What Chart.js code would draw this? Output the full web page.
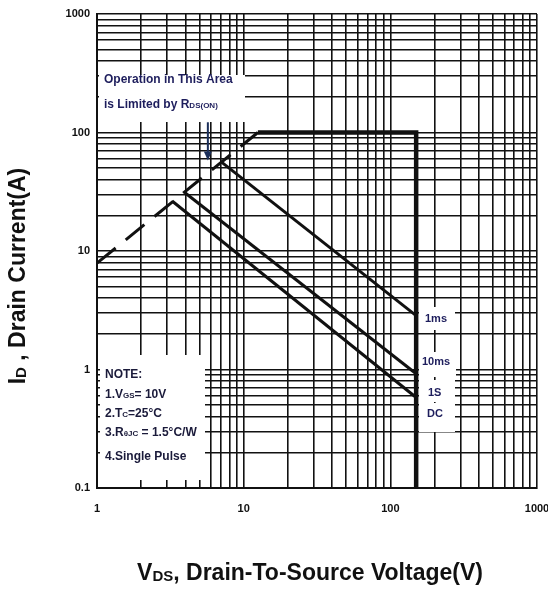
<!DOCTYPE html>
<html>
<head>
<meta charset="utf-8">
<script src="https://cdn.jsdelivr.net/npm/chart.js@4.4.1/dist/chart.umd.min.js"></script>
<style>
  html, body { margin: 0; padding: 0; background: #fff; }
  #wrap { width: 548px; height: 591px; position: relative; }
</style>
</head>
<body>
<div id="wrap"><canvas id="soa"></canvas></div>
<script>
// tick labels shown on the log axes
const xTickLabels = ['1', '10', '100', '1000']
const yTickLabels = ['0.1', '1', '10', '100', '1000']

// RDS(on) limit, dashed
const rdsVds = [1, 12.5]
const rdsId = [7.9, 100]
// package current limit and BVDSS limit
const limVds = [12.5, 150, 150]
const limId = [100, 100, 0.1]
// single pulse curves
const ms1Vds = [7.1, 150]
const ms1Id = [56, 2.85]
const ms10Vds = [3.98, 150]
const ms10Id = [31, 0.92]
const dcVds = [3.25, 150]
const dcId = [26.4, 0.58]

const FONT = '"Liberation Sans", Arial, sans-serif'
const NAVY = '#1d1d5c'
const INK = '#111'

function pts(xs, ys) { return xs.map((x, i) => ({ x: x, y: ys[i] })) }

function logTicks(min, max) {
  var out = []
  for (var d = min; d < max; d *= 10) {
    for (var m = 1; m < 10; m++) out.push({ value: +(d * m).toPrecision(3) })
  }
  out.push({ value: max })
  return out
}

// draw text made of runs (for subscripts), left aligned at x
function rich(ctx, parts, x, y) {
  var cx = x
  parts.forEach(function (p) {
    ctx.font = 'bold ' + p[1] + 'px ' + FONT
    ctx.fillText(p[0], cx, y + (p[2] || 0))
    cx += ctx.measureText(p[0]).width
  })
  return cx - x
}
function richWidth(ctx, parts) {
  var w = 0
  parts.forEach(function (p) {
    ctx.font = 'bold ' + p[1] + 'px ' + FONT
    w += ctx.measureText(p[0]).width
  })
  return w
}

const notes = {
  id: 'notes',
  beforeDatasetsDraw(chart) {
    var ctx = chart.ctx
    ctx.save()
    ctx.fillStyle = '#fff'
    ctx.fillRect(99, 75, 146, 47)     // operation box
    ctx.fillRect(100, 355, 105, 125)  // note box
    ctx.fillRect(419, 307, 36, 23)
    ctx.fillRect(419, 352, 37, 25)
    ctx.fillRect(419, 380, 36, 22)
    ctx.fillRect(419, 403, 36, 29)
    ctx.restore()
  },
  afterDatasetsDraw(chart) {
    var ctx = chart.ctx
    var xs = chart.scales.x, ys = chart.scales.y
    ctx.save()
    ctx.fillStyle = NAVY
    ctx.textBaseline = 'middle'
    ctx.textAlign = 'left'
    rich(ctx, [['Operation in This Area', 12]], 104, 80)
    rich(ctx, [['is Limited by R', 12], ['DS(ON)', 8, 1]], 104, 105)

    rich(ctx, [['1ms', 11]], 425, 319)
    rich(ctx, [['10ms', 11]], 422, 362)
    rich(ctx, [['1S', 11]], 428, 393)
    rich(ctx, [['DC', 11]], 427, 414)

    ctx.fillStyle = '#1a1a3a'
    rich(ctx, [['NOTE:', 12]], 105, 375)
    rich(ctx, [['1.V', 12], ['GS', 8, 1], ['= 10V', 12]], 105, 395)
    rich(ctx, [['2.T', 12], ['C', 8, 1], ['=25°C', 12]], 105, 414)
    rich(ctx, [['3.R', 12], ['θJC', 8, 1], [' = 1.5°C/W', 12]], 105, 433)
    rich(ctx, [['4.Single Pulse', 12]], 105, 457)

    // arrow pointing at the RDS(on) line
    var ax = xs.getPixelForValue(5.7)
    var y0 = ys.getPixelForValue(122), y1 = ys.getPixelForValue(58)
    ctx.strokeStyle = '#1b2f5a'
    ctx.fillStyle = '#1b2f5a'
    ctx.lineWidth = 2
    ctx.beginPath(); ctx.moveTo(ax, y0); ctx.lineTo(ax, y1 - 6); ctx.stroke()
    ctx.beginPath(); ctx.moveTo(ax - 4, y1 - 9); ctx.lineTo(ax + 4, y1 - 9); ctx.lineTo(ax, y1); ctx.closePath(); ctx.fill()
    ctx.restore()
  },
  afterDraw(chart) {
    var ctx = chart.ctx
    ctx.save()
    ctx.fillStyle = INK
    ctx.textBaseline = 'middle'
    var xt = [['V', 23], ['DS', 15, 3], [', Drain-To-Source Voltage(V)', 23]]
    rich(ctx, xt, 310 - richWidth(ctx, xt) / 2, 574)
    var yt = [['I', 23], ['D', 15, 3], [' , Drain Current(A)', 23]]
    ctx.translate(19, 276)
    ctx.rotate(-Math.PI / 2)
    rich(ctx, yt, -richWidth(ctx, yt) / 2, 0)
    ctx.restore()
  }
}

function line(data, width, dash) {
  return {
    data: data, showLine: true, borderColor: INK, backgroundColor: INK,
    borderWidth: width, borderDash: dash || [], pointRadius: 0, tension: 0,
    borderCapStyle: 'butt', borderJoinStyle: 'miter'
  }
}

new Chart(document.getElementById('soa'), {
  type: 'scatter',
  data: {
    datasets: [
      line(pts(rdsVds, rdsId), 3, [24, 13]),
      line(pts(ms1Vds, ms1Id), 3),
      line(pts(ms10Vds, ms10Id), 3),
      line(pts(dcVds, dcId), 3),
      line(pts(limVds, limId), 4.5)
    ]
  },
  options: {
    responsive: true,
    maintainAspectRatio: false,
    animation: false,
    layout: { padding: { top: 14, right: 11, left: 0, bottom: 0 } },
    plugins: { legend: { display: false }, tooltip: { enabled: false } },
    scales: {
      x: {
        type: 'logarithmic', min: 1, max: 1000,
        afterBuildTicks: function (s) { s.ticks = logTicks(1, 1000) },
        afterFit: function (s) { s.height = 103; s.paddingLeft = 0; s.paddingRight = 0 },
        grid: { color: INK, lineWidth: 1.6, drawTicks: false },
        border: { color: INK, width: 2 },
        ticks: {
          autoSkip: false, maxRotation: 0, padding: 14, color: INK,
          font: { family: FONT, size: 11, weight: 'bold' },
          callback: function (v) { var s = String(v); return xTickLabels.includes(s) ? s : '' }
        }
      },
      y: {
        type: 'logarithmic', min: 0.1, max: 1000,
        afterBuildTicks: function (s) { s.ticks = logTicks(0.1, 1000) },
        afterFit: function (s) { s.width = 97; s.paddingTop = 0; s.paddingBottom = 0 },
        grid: { color: INK, lineWidth: 1.6, drawTicks: false },
        border: { color: INK, width: 2 },
        ticks: {
          autoSkip: false, padding: 7, color: INK,
          font: { family: FONT, size: 11, weight: 'bold' },
          callback: function (v) { var s = String(v); return yTickLabels.includes(s) ? s : '' }
        }
      }
    }
  },
  plugins: [notes]
})
</script>
</body>
</html>
